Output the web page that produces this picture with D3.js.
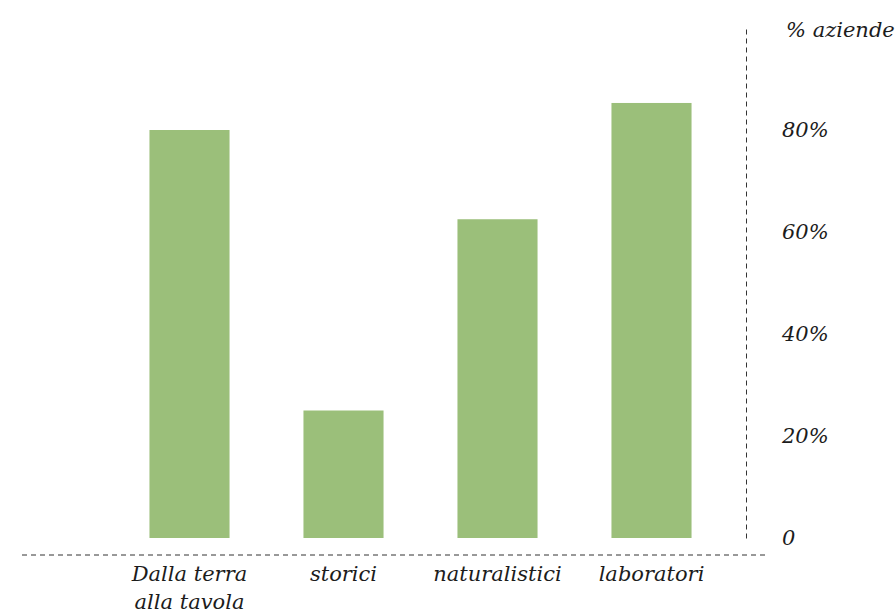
<!DOCTYPE html>
<html>
<head>
<meta charset="utf-8">
<script src="https://cdn.jsdelivr.net/npm/d3@7"></script>
<style>
  html, body { margin: 0; padding: 0; background: #fff; }
  svg { display: block; }
  text { font-family: "DejaVu Serif", "Liberation Serif", serif; font-style: italic; fill: #1c1c1c; }
</style>
</head>
<body>
<svg id="chart" width="896" height="616"></svg>
<script>
const categories = [["Dalla terra", "alla tavola"], ["storici"], ["naturalistici"], ["laboratori"]];
const values = [80, 25, 62.5, 85.3];
const tickValues = [0, 20, 40, 60, 80];
const tickLabels = ["0", "20%", "40%", "60%", "80%"];
const axisTitle = "% aziende";

const svg = d3.select("#chart");

const x = d3.scaleBand()
  .domain(d3.range(categories.length))
  .range([112.5, 728.5])
  .paddingInner(0.48)
  .paddingOuter(0.24);

const y = d3.scaleLinear().domain([0, 100]).range([538, 28]);

// bars
svg.append("g").selectAll("rect")
  .data(values)
  .join("rect")
  .attr("x", (d, i) => x(i))
  .attr("y", d => y(d))
  .attr("width", x.bandwidth())
  .attr("height", d => y(0) - y(d))
  .attr("fill", "#9bbf7a");

// baseline dashed
svg.append("line")
  .attr("x1", 22).attr("x2", 765)
  .attr("y1", 555).attr("y2", 555)
  .attr("stroke", "#333").attr("stroke-width", 1)
  .attr("stroke-dasharray", "5,4");

// right axis
const yAxis = d3.axisRight(y)
  .tickValues(tickValues)
  .tickSize(0)
  .tickPadding(36)
  .tickFormat((d, i) => tickLabels[i]);

const ag = svg.append("g")
  .attr("transform", "translate(746,0)")
  .call(yAxis);
ag.select(".domain")
  .attr("stroke", "#333")
  .attr("stroke-dasharray", "5,4");
ag.selectAll(".tick text")
  .attr("font-family", null)
  .attr("dy", "0.3em")
  .style("font-size", "21px")
  .attr("fill", "#1c1c1c");

svg.append("text")
  .attr("x", 786).attr("y", 37)
  .style("font-size", "21px")
  .text(axisTitle);

// category labels
const lab = svg.append("g").selectAll("text")
  .data(categories)
  .join("text")
  .attr("x", (d, i) => x(i) + x.bandwidth() / 2)
  .attr("y", 581)
  .attr("text-anchor", "middle")
  .style("font-size", "21px");
lab.selectAll("tspan")
  .data(d => d)
  .join("tspan")
  .attr("x", function() { return this.parentNode.getAttribute("x"); })
  .attr("dy", (d, i) => i === 0 ? 0 : 28)
  .text(d => d);
</script>
</body>
</html>
